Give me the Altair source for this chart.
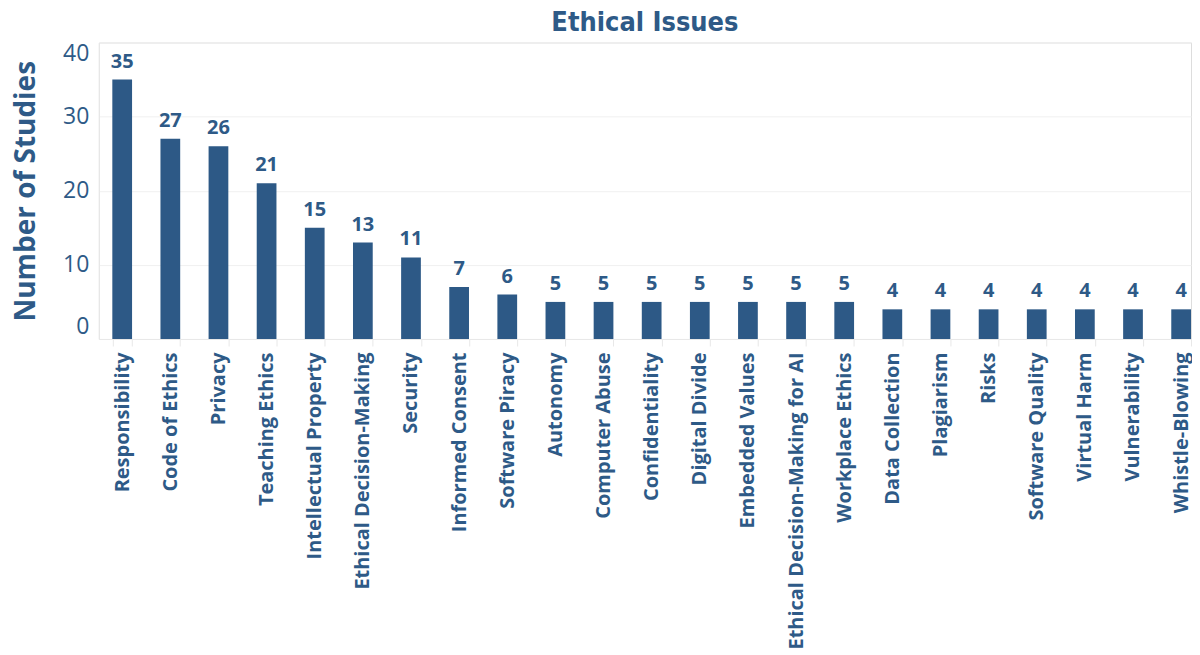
import altair as alt
import pandas as pd

categories = ["Responsibility", "Code of Ethics", "Privacy", "Teaching Ethics",
              "Intellectual Property", "Ethical Decision-Making", "Security",
              "Informed Consent", "Software Piracy", "Autonomy", "Computer Abuse",
              "Confidentiality", "Digital Divide", "Embedded Values",
              "Ethical Decision-Making for AI", "Workplace Ethics", "Data Collection",
              "Plagiarism", "Risks", "Software Quality", "Virtual Harm",
              "Vulnerability", "Whistle-Blowing"]
studies = [35, 27, 26, 21, 15, 13, 11, 7, 6, 5, 5, 5, 5, 5, 5, 5, 4, 4, 4, 4, 4, 4, 4]
y_ticks = [0, 10, 20, 30, 40]

df = pd.DataFrame({"issue": categories, "n": studies})

BLUE = "#2d5986"
TEXT = "#2e5a87"
FONT = "Open Sans"

x = alt.X("issue:N", sort=categories, title=None,
          scale=alt.Scale(paddingInner=0.59, paddingOuter=0.14, align=1),
          axis=alt.Axis(labelAngle=-90, labelFont=FONT, labelFontSize=20,
                        labelFontWeight="bold", labelColor=TEXT, labelPadding=6,
                        domainColor="#e8e8e8", tickColor="#e8e8e8", tickSize=7,
                        tickBand="extent", labelLimit=400))

bars = alt.Chart(df).mark_bar(color=BLUE).encode(
    x=x,
    y=alt.Y("n:Q", title="Number of Studies",
            scale=alt.Scale(domain=[0, 40], nice=False),
            axis=alt.Axis(values=y_ticks, labelFlush=True, labelFont=FONT,
                          labelFontSize=23, labelColor=TEXT, labelPadding=10,
                          ticks=False, domainColor="#e8e8e8", gridColor="#f0f0f0",
                          titleFont=FONT, titleFontSize=28, titleFontWeight="bold",
                          titleColor=TEXT, titlePadding=22)),
)

labels = alt.Chart(df).mark_text(dy=-8, baseline="bottom", font=FONT, fontSize=20,
                                 fontWeight="bold", color=TEXT).encode(
    x=alt.X("issue:N", sort=categories),
    y="n:Q",
    text="n:Q",
)

chart = (bars + labels).properties(
    width=1094, height=297,
    title=alt.TitleParams("Ethical Issues", font="Liberation Sans Narrow, DejaVu Sans Condensed",
                          fontSize=27, fontWeight="bold", color=TEXT, anchor="middle",
                          offset=6),
).configure_view(stroke=None).configure(padding={"left": 4, "top": 0, "right": 0, "bottom": 0})

chart.save("out.html", embed_options={"renderer": "svg", "actions": False})
